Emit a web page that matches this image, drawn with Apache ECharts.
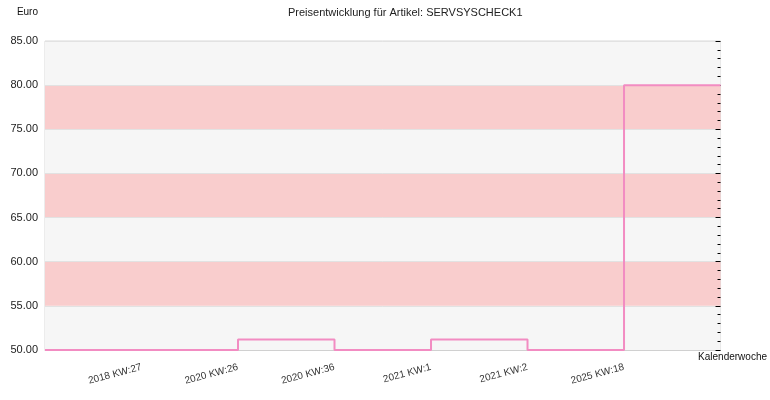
<!DOCTYPE html>
<html>
<head>
<meta charset="utf-8">
<script src="https://cdn.jsdelivr.net/npm/echarts@6/dist/echarts.min.js"></script>
<style>
    html, body { margin: 0; padding: 0; background: #fff; }
    #chart { width: 770px; height: 400px; }
</style>
</head>
<body>
<div id="chart"></div>
<script>
// Preisverlauf (Stufenlinie)
var weeks = ['', '2018 KW:27', '2020 KW:26', '2020 KW:36', '2021 KW:1', '2021 KW:2', '2025 KW:18', ''];
var prices = [50, 50, 51.2, 50, 51.2, 50, 80, 80];
var yTicks = { min: 50, max: 85, step: 5 };

(function(){

    var chart = echarts.init(document.getElementById("chart"));

    var font = 'Liberation Sans, Arial, sans-serif';

    option = {
        animation: false,
        title: {
            text: 'Preisentwicklung für Artikel: SERVSYSCHECK1',
            left: 283,
            top: 2,
            textStyle: { fontSize: 11, fontWeight: 'normal', color: '#222', fontFamily: font }
        },
        grid: {
            left: 45,
            right: 49,
            top: 41,
            bottom: 50,
            show: true,
            borderColor: '#d9d9d9',
            borderWidth: 1
        },
        xAxis: {
            type: 'category',
            boundaryGap: false,
            data: weeks,
            name: 'Kalenderwoche',
            nameLocation: 'end',
            nameGap: 12,
            nameTextStyle: { fontSize: 10, color: '#111', fontFamily: font, align: 'center', verticalAlign: 'top', padding: [2, 0, 0, 0] },
            axisLine: { lineStyle: { color: '#d0d0d0' } },
            axisTick: { show: false },
            axisLabel: {
                rotate: 15,
                margin: 17,
                fontSize: 10,
                color: '#333',
                fontFamily: font,
                interval: 0
            },
            splitLine: { show: false }
        },
        yAxis: [
            {
                type: 'value',
                min: yTicks.min,
                max: yTicks.max,
                interval: yTicks.step,
                name: 'Euro',
                nameLocation: 'end',
                nameGap: 29,
                nameTextStyle: { fontSize: 10, color: '#111', fontFamily: font, align: 'right', verticalAlign: 'middle', padding: [0, 7, 0, 0] },
                axisLine: { show: false },
                axisTick: { show: false },
                axisLabel: {
                    margin: 7,
                    fontSize: 11,
                    color: '#222',
                    fontFamily: font,
                    formatter: function(v){ return v.toFixed(2); }
                },
                splitLine: { show: true, lineStyle: { color: '#e2e2e2', width: 1 } },
                splitArea: {
                    show: true,
                    areaStyle: { color: ['#f6f6f6', '#f9cdcd'] }
                }
            },
            {
                type: 'value',
                position: 'right',
                min: yTicks.min,
                max: yTicks.max,
                interval: yTicks.step,
                axisLine: { show: false },
                axisLabel: { show: false },
                axisTick: { show: true, inside: true, length: 5, lineStyle: { color: '#000', width: 1 } },
                minorTick: { show: true, splitNumber: 5, length: 3, lineStyle: { color: '#000', width: 1 } },
                splitLine: { show: false }
            }
        ],
        series: [
            {
                name: 'Preis',
                type: 'line',
                step: 'end',
                data: prices,
                symbol: 'none',
                lineStyle: { color: '#f28cc2', width: 2 },
                itemStyle: { color: '#f28cc2' }
            }
        ]
    };

    chart.setOption(option);
})();
</script>
</body>
</html>
